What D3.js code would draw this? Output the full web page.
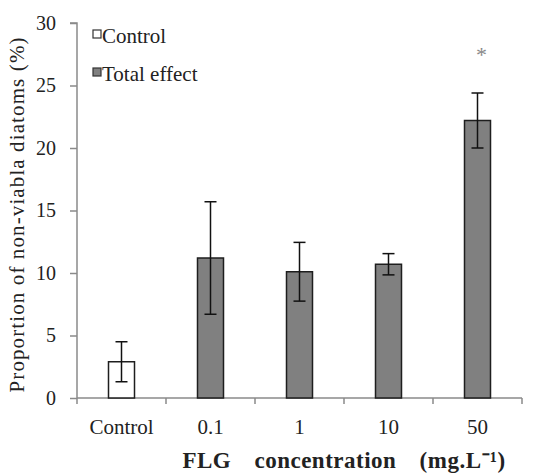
<!DOCTYPE html>
<html>
<head>
<meta charset="utf-8">
<script src="https://cdn.jsdelivr.net/npm/d3@7"></script>
<style>
  body { margin: 0; background: #fff; }
  svg text { font-family: "Liberation Serif", "Times New Roman", Times, serif; }
</style>
</head>
<body>
<div id="chart"></div>
<script>
// values
var categories = ["Control", "0.1", "1", "10", "50"];
var means = [2.9, 11.2, 10.1, 10.7, 22.2];
var errors = [1.6, 4.5, 2.35, 0.85, 2.2];
var groups = ["Control", "Total effect", "Total effect", "Total effect", "Total effect"];
var yTicks = [0, 5, 10, 15, 20, 25, 30];
var legendItems = ["Control", "Total effect"];

var width = 535,
    height = 475;

var colors = { "Control": "#ffffff", "Total effect": "#808080" };

var svg = d3.select("#chart").append("svg")
    .attr("width", width)
    .attr("height", height);

var x = d3.scaleBand()
    .domain(categories)
    .range([77, 522])
    .padding(0);

var y = d3.scaleLinear()
    .domain([0, 30])
    .range([398, 23]);

var barW = 26;

// y axis
var yAxis = svg.append("g")
    .attr("transform", "translate(77,0)")
    .call(d3.axisLeft(y).tickValues(yTicks).tickSize(7).tickPadding(14));
yAxis.attr("font-family", null);
yAxis.select(".domain").attr("stroke", "#8a8a8a").attr("stroke-width", 1.5)
    .attr("d", "M-7," + y(30) + "H0V" + y(0));
yAxis.selectAll(".tick line").attr("stroke", "#8a8a8a").attr("stroke-width", 1.5);
yAxis.selectAll(".tick text")
    .attr("fill", "#222")
    .style("font-size", "20px");

// x axis: ticks at the category boundaries
var xAxis = svg.append("g");
xAxis.append("line")
    .attr("x1", x.range()[0]).attr("x2", x.range()[1])
    .attr("y1", y(0)).attr("y2", y(0))
    .attr("stroke", "#8a8a8a").attr("stroke-width", 1.5);
var bounds = categories.map(function(c) { return x(c); }).concat([x.range()[1]]);
xAxis.selectAll("line.tk")
    .data(bounds)
    .enter().append("line")
    .attr("class", "tk")
    .attr("x1", function(d) { return d; }).attr("x2", function(d) { return d; })
    .attr("y1", y(0)).attr("y2", y(0) + 6)
    .attr("stroke", "#8a8a8a").attr("stroke-width", 1.5);
xAxis.selectAll("text")
    .data(categories)
    .enter().append("text")
    .attr("x", function(d) { return x(d) + x.bandwidth() / 2; })
    .attr("y", 434)
    .attr("text-anchor", "middle")
    .attr("fill", "#222")
    .style("font-size", "21px")
    .text(function(d) { return d; });

// bars
svg.selectAll("rect.bar")
    .data(categories)
    .enter().append("rect")
    .attr("class", "bar")
    .attr("x", function(d) { return x(d) + (x.bandwidth() - barW) / 2; })
    .attr("y", function(d, i) { return y(means[i]); })
    .attr("width", barW)
    .attr("height", function(d, i) { return y(0) - y(means[i]); })
    .attr("fill", function(d, i) { return colors[groups[i]]; })
    .attr("stroke", "#1e1e1e")
    .attr("stroke-width", 1.5);

// error bars
var eb = svg.selectAll("g.err")
    .data(categories)
    .enter().append("g")
    .attr("class", "err")
    .attr("stroke", "#111")
    .attr("stroke-width", 1.5);
eb.append("line")
    .attr("x1", function(d) { return x(d) + x.bandwidth() / 2; })
    .attr("x2", function(d) { return x(d) + x.bandwidth() / 2; })
    .attr("y1", function(d, i) { return y(means[i] + errors[i]); })
    .attr("y2", function(d, i) { return y(means[i] - errors[i]); });
eb.append("line")
    .attr("x1", function(d) { return x(d) + x.bandwidth() / 2 - 6; })
    .attr("x2", function(d) { return x(d) + x.bandwidth() / 2 + 6; })
    .attr("y1", function(d, i) { return y(means[i] + errors[i]); })
    .attr("y2", function(d, i) { return y(means[i] + errors[i]); });
eb.append("line")
    .attr("x1", function(d) { return x(d) + x.bandwidth() / 2 - 6; })
    .attr("x2", function(d) { return x(d) + x.bandwidth() / 2 + 6; })
    .attr("y1", function(d, i) { return y(means[i] - errors[i]); })
    .attr("y2", function(d, i) { return y(means[i] - errors[i]); });

// significance mark
svg.append("text")
    .attr("x", x("50") + x.bandwidth() / 2 + 4)
    .attr("y", y(26.9))
    .attr("text-anchor", "middle")
    .attr("fill", "#888")
    .style("font-size", "22px")
    .text("*");

// legend
var legend = svg.selectAll("g.leg")
    .data(legendItems)
    .enter().append("g")
    .attr("class", "leg")
    .attr("transform", function(d, i) { return "translate(93," + (30 + i * 38) + ")"; });
legend.append("rect")
    .attr("width", 8).attr("height", 8)
    .attr("fill", function(d) { return colors[d]; })
    .attr("stroke", "#333").attr("stroke-width", 1.2);
legend.append("text")
    .attr("x", 9).attr("y", 13)
    .attr("fill", "#222")
    .style("font-size", "21px")
    .text(function(d) { return d; });

// axis titles
svg.append("text")
    .attr("transform", "translate(24,215) rotate(-90)")
    .attr("text-anchor", "middle")
    .attr("fill", "#222")
    .style("font-size", "21px")
    .attr("textLength", 355)
    .attr("lengthAdjust", "spacing")
    .text("Proportion of non-viabla diatoms (%)");

svg.append("text")
    .attr("x", 344).attr("y", 468)
    .attr("text-anchor", "middle")
    .attr("fill", "#222")
    .style("font-size", "23px")
    .style("font-weight", "bold")
    .style("letter-spacing", "0.5px")
    .style("word-spacing", "17px")
    .text("FLG concentration (mg.L\u207B\u00B9)");
</script>
</body>
</html>
